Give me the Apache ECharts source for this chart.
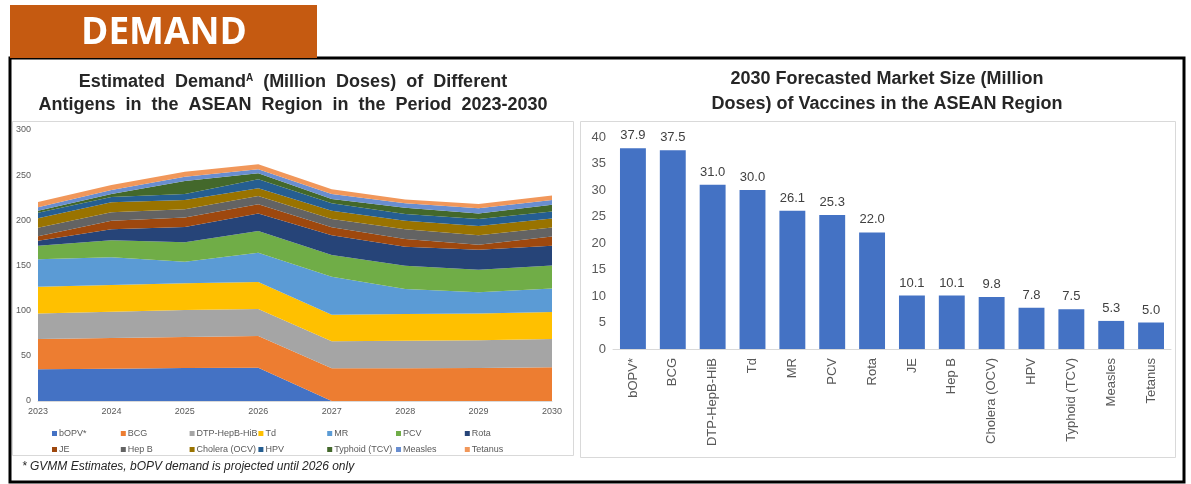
<!DOCTYPE html>
<html>
<head>
<meta charset="utf-8">
<script src="https://cdn.jsdelivr.net/npm/echarts@6/dist/echarts.min.js"></script>
<style>
  html, body { margin: 0; padding: 0; background: #ffffff; }
  #chart { width: 1191px; height: 484px; }
</style>
</head>
<body>
<div id="chart"></div>
<script>
// Years on the demand timeline
const years = ['2023', '2024', '2025', '2026', '2027', '2028', '2029', '2030'];

// Estimated demand per antigen (million doses), stacked bottom to top
const bOPV     = [35.1, 35.8, 36.5, 36.9, 0, 0, 0, 0];
const BCG      = [33.5, 33.9, 34.3, 35.1, 36.2, 36.2, 36.5, 37.5];
const DTP      = [28.4, 29.2, 29.9, 29.8, 29.9, 30.6, 30.7, 31.0];
const Td       = [29.6, 29.5, 29.6, 29.9, 29.5, 29.5, 29.8, 30.0];
const MR       = [30.2, 30.6, 23.9, 32.5, 42.0, 27.7, 23.3, 26.1];
const PCV      = [15.2, 18.9, 21.4, 24.0, 24.0, 25.8, 25.1, 25.3];
const Rota     = [5.5, 12.1, 17.0, 19.5, 21.8, 21.0, 22.1, 22.0];
const JE       = [4.8, 9.6, 10.4, 10.0, 8.9, 8.5, 5.6, 10.1];
const HepB     = [9.6, 9.3, 9.2, 9.2, 9.2, 10.7, 10.3, 10.1];
const Cholera  = [10.3, 11.0, 10.3, 8.5, 9.2, 9.6, 10.3, 9.8];
const HPV      = [6.3, 5.9, 6.7, 10.0, 8.1, 7.4, 7.8, 7.8];
const Typhoid  = [2.2, 3.4, 14.3, 6.6, 4.8, 7.0, 6.2, 7.5];
const Measles  = [3.7, 4.4, 4.8, 4.5, 5.6, 4.8, 5.6, 5.3];
const Tetanus  = [5.9, 5.5, 5.6, 5.5, 5.1, 4.4, 4.8, 5.0];

const antigenNames = ['bOPV*', 'BCG', 'DTP-HepB-HiB', 'Td', 'MR', 'PCV', 'Rota',
  'JE', 'Hep B', 'Cholera (OCV)', 'HPV', 'Typhoid (TCV)', 'Measles', 'Tetanus'];
const antigenData = [bOPV, BCG, DTP, Td, MR, PCV, Rota, JE, HepB, Cholera, HPV, Typhoid, Measles, Tetanus];
const antigenColors = ['#4472C4', '#ED7D31', '#A5A5A5', '#FFC000', '#5B9BD5', '#70AD47', '#264478',
  '#9E480E', '#636363', '#997300', '#255E91', '#43682B', '#698ED0', '#F1975A'];

// 2030 forecasted market size (million doses)
const vaccines = ['bOPV*', 'BCG', 'DTP-HepB-HiB', 'Td', 'MR', 'PCV', 'Rota', 'JE', 'Hep B',
  'Cholera (OCV)', 'HPV', 'Typhoid (TCV)', 'Measles', 'Tetanus'];
const marketSize2030 = [37.9, 37.5, 31.0, 30.0, 26.1, 25.3, 22.0, 10.1, 10.1, 9.8, 7.8, 7.5, 5.3, 5.0];

const leftTicks = [0, 50, 100, 150, 200, 250, 300];
const rightTicks = [0, 5, 10, 15, 20, 25, 30, 35, 40];

const FONT = '"Liberation Sans", Arial, sans-serif';
const chart = echarts.init(document.getElementById('chart'), null, { renderer: 'canvas' });

const areaSeries = antigenNames.map((name, i) => ({
  name: name,
  type: 'line',
  stack: 'demand',
  xAxisIndex: 0,
  yAxisIndex: 0,
  symbol: 'none',
  lineStyle: { width: 0 },
  areaStyle: { color: antigenColors[i], opacity: 1 },
  itemStyle: { color: antigenColors[i] },
  data: antigenData[i]
}));

// Legend laid out as a 7-column, 2-row table: one vertical legend per column
const legendCols = 7;
const legends = [];
for (let c = 0; c < legendCols; c++) {
  legends.push({
    orient: 'vertical',
    left: 52 + c * 68.8,
    top: 428,
    icon: 'rect',
    itemWidth: 5,
    itemHeight: 5,
    itemGap: 5,
    padding: 0,
    selectedMode: false,
    textStyle: { fontFamily: FONT, fontSize: 9, color: '#595959', lineHeight: 11, padding: [0, 0, 0, -3] },
    data: [antigenNames[c], antigenNames[c + legendCols]]
  });
}

const option = {
  animation: false,
  backgroundColor: '#ffffff',
  title: [
    {
      left: 288, top: 66, textAlign: 'center',
      text: '{b|Estimated  Demand}{sup|A}{b|  (Million  Doses)  of  Different}\n{b|Antigens  in  the  ASEAN  Region  in  the  Period  2023-2030}',
      textStyle: {
        rich: {
          b: { fontFamily: FONT, fontSize: 18, fontWeight: 'bold', color: '#262626', lineHeight: 23 },
          sup: { fontFamily: FONT, fontSize: 10, fontWeight: 'bold', color: '#262626', lineHeight: 23, padding: [0, 0, 9, 0] }
        }
      }
    },
    {
      left: 882, top: 62, textAlign: 'center',
      text: '2030 Forecasted Market Size (Million\nDoses) of Vaccines in the ASEAN Region',
      textStyle: { fontFamily: FONT, fontSize: 18, fontWeight: 'bold', color: '#262626', lineHeight: 25 }
    }
  ],
  legend: legends,
  grid: [
    { left: 38, right: 639, top: 130, bottom: 83 },
    { left: 613, right: 20, top: 137, bottom: 135 }
  ],
  xAxis: [
    {
      gridIndex: 0, type: 'category', data: years, boundaryGap: false,
      axisLine: { lineStyle: { color: '#d9d9d9' } },
      axisTick: { show: false },
      axisLabel: { fontFamily: FONT, fontSize: 9, color: '#595959', margin: 6 }
    },
    {
      gridIndex: 1, type: 'category', data: vaccines,
      axisLine: { lineStyle: { color: '#d9d9d9' } },
      axisTick: { show: false },
      axisLabel: { fontFamily: FONT, fontSize: 13, color: '#595959', rotate: 90, margin: 9, interval: 0 }
    }
  ],
  yAxis: [
    {
      gridIndex: 0, type: 'value', min: leftTicks[0], max: leftTicks[leftTicks.length - 1], interval: 50,
      splitLine: { show: false }, axisLine: { show: false }, axisTick: { show: false },
      axisLabel: { fontFamily: FONT, fontSize: 9, color: '#595959', margin: 7 }
    },
    {
      gridIndex: 1, type: 'value', min: rightTicks[0], max: rightTicks[rightTicks.length - 1], interval: 5,
      splitLine: { show: false }, axisLine: { show: false }, axisTick: { show: false },
      axisLabel: { fontFamily: FONT, fontSize: 13, color: '#595959', margin: 7 }
    }
  ],
  series: areaSeries.concat([
    {
      name: '2030 Market Size',
      type: 'bar',
      xAxisIndex: 1,
      yAxisIndex: 1,
      barCategoryGap: '35%',
      itemStyle: { color: '#4472C4' },
      label: {
        show: true, position: 'top', distance: 6,
        fontFamily: FONT, fontSize: 13, color: '#404040',
        formatter: p => p.value.toFixed(1)
      },
      data: marketSize2030
    }
  ]),
  graphic: [
    // outer frame
    { type: 'rect', z: 0, shape: { x: 10, y: 58, width: 1174, height: 424 },
      style: { fill: 'none', stroke: '#000000', lineWidth: 3 } },
    // chart panels
    { type: 'rect', z: 0, shape: { x: 12.5, y: 121.5, width: 561, height: 334 },
      style: { fill: 'none', stroke: '#d9d9d9', lineWidth: 1 } },
    { type: 'rect', z: 0, shape: { x: 580.5, y: 121.5, width: 595, height: 336 },
      style: { fill: 'none', stroke: '#d9d9d9', lineWidth: 1 } },
    // section banner
    { type: 'rect', z: 10, shape: { x: 10, y: 5, width: 307, height: 53 },
      style: { fill: '#C55A11' } },
    { type: 'text', z: 11, x: 164, y: 33,
      style: { text: 'DEMAND', fill: '#ffffff', font: 'bold 37px "Open Sans", sans-serif',
        textAlign: 'center', textVerticalAlign: 'middle' } },
    // footnote
    { type: 'text', z: 11, x: 22, y: 467,
      style: { text: '* GVMM Estimates, bOPV demand is projected until 2026 only', fill: '#262626',
        font: 'italic 12px "Liberation Sans", Arial, sans-serif', textVerticalAlign: 'middle' } }
  ]
};

chart.setOption(option);
</script>
</body>
</html>
